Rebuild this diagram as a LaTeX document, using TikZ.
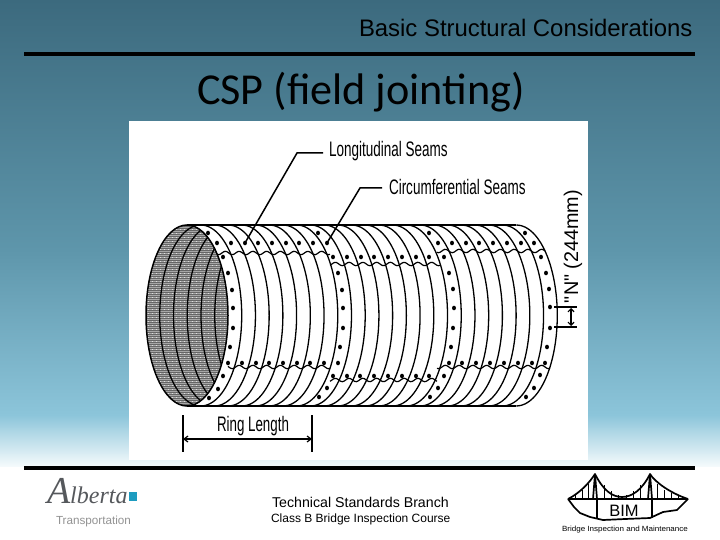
\documentclass[tikz,border=0pt]{standalone}
\usepackage{fontspec}
\usepackage{graphicx}
\setmainfont{Liberation Sans}
\newfontfamily\plainfont{Liberation Sans}
\newfontfamily\carlitofont{Carlito}
\newfontfamily\serifit{Liberation Serif}
\usetikzlibrary{arrows.meta}
\newcommand{\fs}[1]{\fontsize{#1}{#1}\selectfont}
\newcommand{\tubedots}[1]{\foreach \px/\py in {#1}{\fill[black] (\px,\py) ellipse [x radius=2, y radius=2.3];}}
\newcommand{\seamwave}[3]{\draw[seamline] plot[domain=#1:#2,samples=70,smooth,variable=\t] (\t,{#3+1.7*cos(\t*26.18+40)});}
\tikzset{
  ringline/.style={black,line width=1.3pt},
  seamline/.style={black,line width=1.2pt},
  leaderline/.style={black,line width=1.5pt},
  dimline/.style={black,line width=1.2pt},
  rule/.style={black,line width=4pt},
  txt/.style={inner sep=0pt,outer sep=0pt,anchor=base west,text=black},
  drawtxt/.style={inner sep=0pt,outer sep=0pt,anchor=base,text=black},
  bridge/.style={black,line width=1.7pt,line join=round}
}
\begin{document}
\begin{tikzpicture}[x=1pt,y=-1pt]
\useasboundingbox (0,0) rectangle (720,540);
% background
\fill[white] (0,0) rectangle (720,540);
\definecolor{bgA}{HTML}{3C6A7E}
\definecolor{bgB}{HTML}{5E96AB}
\definecolor{bgC}{HTML}{8CC5DA}
\definecolor{bgD}{HTML}{F4FAFC}
\shade[top color=bgA,bottom color=bgB] (0,0) rectangle (720,250.5);
\shade[top color=bgB,bottom color=bgC] (0,250) rectangle (720,415.5);
\shade[top color=bgC,bottom color=bgD] (0,415) rectangle (720,466);
% picture panel
\fill[white] (129,121) rectangle (588,460);
% header
\node[txt] (head) at (359,37) {\fs{23.9}Basic Structural Considerations};
\draw[rule] (24,54) -- (695,54);
\node[txt] (title) at (197,105) {\carlitofont\fs{44.2}CSP (field jointing)};
% dark inside
\begin{scope}
\clip (187,315.5) ellipse [x radius=41, y radius=90.5];
\fill[gray!70] (140,220) rectangle (235,410);
\foreach \yy in {226,228,...,406}{\draw[black!60,line width=0.5pt] (140,\yy) -- (235,\yy);}
\foreach \xx in {148,152,...,228}{\draw[white!75!gray,line width=0.4pt,dash pattern=on 1.2pt off 2.8pt] (\xx,225) -- (\xx,406);}
\foreach \k in {1,...,5}{
  \draw[ringline] plot[domain=90:270,samples=30,smooth,variable=\t] ({187+13.75*\k+41*cos(\t)},{315.5+90.5*sin(\t)});
}
\end{scope}
\draw[ringline,line width=1.5pt] (187,315.5) ellipse [x radius=41, y radius=90.5];
% rings
\foreach \k in {1,...,24}{
  \draw[ringline] plot[domain=-90:90,samples=30,smooth,variable=\t] ({187+13.72*\k+41*cos(\t)},{315.5+90.5*sin(\t)});
}
\draw[ringline] (187,225) -- (516,225);
\draw[ringline] (187,406) -- (516,406);
% seams
\seamwave{217}{330}{253}
\seamwave{330}{440}{264}
\seamwave{437}{545}{251}
\seamwave{228}{330}{367}
\seamwave{330}{437}{380}
\seamwave{437}{550}{367}
% rivets
\tubedots{208/233,217/243,231/243,245/243,258/243,272/243,286/243,299/243,313/243,327/243,
223/257,228/273,232/290,233/308,233/328,230/347,228/363,242/363,256/363,269/363,283/363,297/363,310/363,324/363,338/363,
223/376,218/389,209/398}
\tubedots{318/233,333/257,347/257,361/257,374/257,388/257,402/257,416/257,429/257,
338/273,342/290,343/308,343/328,340/347,
333/376,347/376,360/376,374/376,388/376,402/376,416/376,429/376,327/388,319/397}
\tubedots{429/233,525/233,438/243,452/243,466/243,479/243,493/243,507/243,521/243,534/243,
444/257,449/273,453/289,454/308,453/328,451/347,449/363,462/363,476/363,490/363,504/363,518/363,532/363,545/363,
444/376,438/388,430/397,541/257,546/273,549/289,550/307,550/328,547/347,540/375,534/388,526/397}
% labels and leaders
\node[txt] (lseam) at (329,157) {\scalebox{0.643}[1]{\fs{21}Longitudinal Seams}};
\node[txt] (cseam) at (389,195) {\scalebox{0.643}[1]{\fs{21}Circumferential Seams}};
\coordinate (l1) at (245,243);
\coordinate (l2) at (297,153);
\coordinate (l3) at (323,153);
\coordinate (c1) at (327,243);
\coordinate (c2) at (360,188);
\coordinate (c3) at (382,188);
\draw[leaderline] (l1) -- (l2) -- (l3);
\draw[leaderline] (c1) -- (c2) -- (c3);
% ring length
\coordinate (rl1) at (183,415);
\coordinate (rl1b) at (183,452);
\coordinate (rl2) at (312,415);
\coordinate (rl2b) at (312,452);
\coordinate (ra) at (183,439);
\coordinate (rb) at (312,439);
\draw[dimline] (rl1) -- (rl1b);
\draw[dimline] (rl2) -- (rl2b);
\draw[dimline,{Straight Barb[length=4pt,width=6pt]}-{Straight Barb[length=4pt,width=6pt]}] (ra) -- (rb);
\node[drawtxt] (ring) at (253,431) {\scalebox{0.635}[1]{\fs{21}Ring Length}};
% N dimension
\coordinate (n1) at (554,307);
\coordinate (n1b) at (577,307);
\coordinate (n2) at (554,327);
\coordinate (n2b) at (577,327);
\coordinate (na) at (571,308);
\coordinate (nb) at (571,326);
\draw[dimline] (n1) -- (n1b);
\draw[dimline,line width=1.5pt] (n2) -- (n2b);
\draw[dimline,{Straight Barb[length=3pt,width=6pt]}-{Straight Barb[length=3pt,width=6pt]}] (na) -- (nb);
\node[inner sep=0pt,outer sep=0pt,anchor=base west,rotate=90,text=black] (ntxt) at (578,303) {\plainfont\fs{19.8}"N" (244mm)};
% footer
\draw[rule] (24,468) -- (695,468);
\node[txt] (tsb) at (272,507) {\fs{14.2}Technical Standards Branch};
\node[txt] (cbb) at (271,522) {\fs{12}Class B Bridge Inspection Course};
% Alberta logo
\definecolor{logogray}{HTML}{55585C}
\definecolor{logoblue}{HTML}{1E9CC0}
\node[txt,text=logogray] (alb) at (47,503) {\serifit\itshape\fs{38}A\fs{24}lberta};
\fill[logoblue] (129,492) rectangle (137,501);
\node[txt,text=gray!85] (trans) at (56,524) {\fs{11.7}Transportation};
% bridge
\coordinate (bl) at (568,499);
\coordinate (br) at (688,499);
\coordinate (t1) at (595,474);
\coordinate (t2) at (650,474);
\draw[bridge,line width=2.5pt] (bl) -- (br);
\draw[bridge] (bl) .. controls (580,493) and (590,482) .. (t1);
\draw[bridge] (t1) .. controls (603,490) and (612,497) .. (622,497) .. controls (632,497) and (642,490) .. (t2);
\draw[bridge] (t2) .. controls (655,482) and (670,493) .. (br);
\draw[bridge] (593,499) -- (t1) -- (597,499);
\draw[bridge] (648,499) -- (t2) -- (652,499);
\foreach \sx/\sy in {575/494,582/490,588/484,604/485,611/491,618/495,626/495,633/491,640/485,657/484,664/490,671/493,678/496}{
  \draw[black,line width=1pt] (\sx,\sy) -- (\sx,499);
}
\draw[bridge] (597,499) -- (597,518);
\draw[bridge] (652,499) -- (652,518);
\draw[bridge] (bl) -- (574,507) -- (580,513) -- (590,517) -- (603,520) -- (625,519) -- (650,518) -- (663,512) -- (677,510) -- (br);
\node[drawtxt] (bim) at (624,516) {\fs{16.5}BIM};
\node[drawtxt] (bimfull) at (625,531) {\scalebox{1.07}[1]{\fs{7.5}Bridge Inspection and Maintenance}};
\end{tikzpicture}
\end{document}
